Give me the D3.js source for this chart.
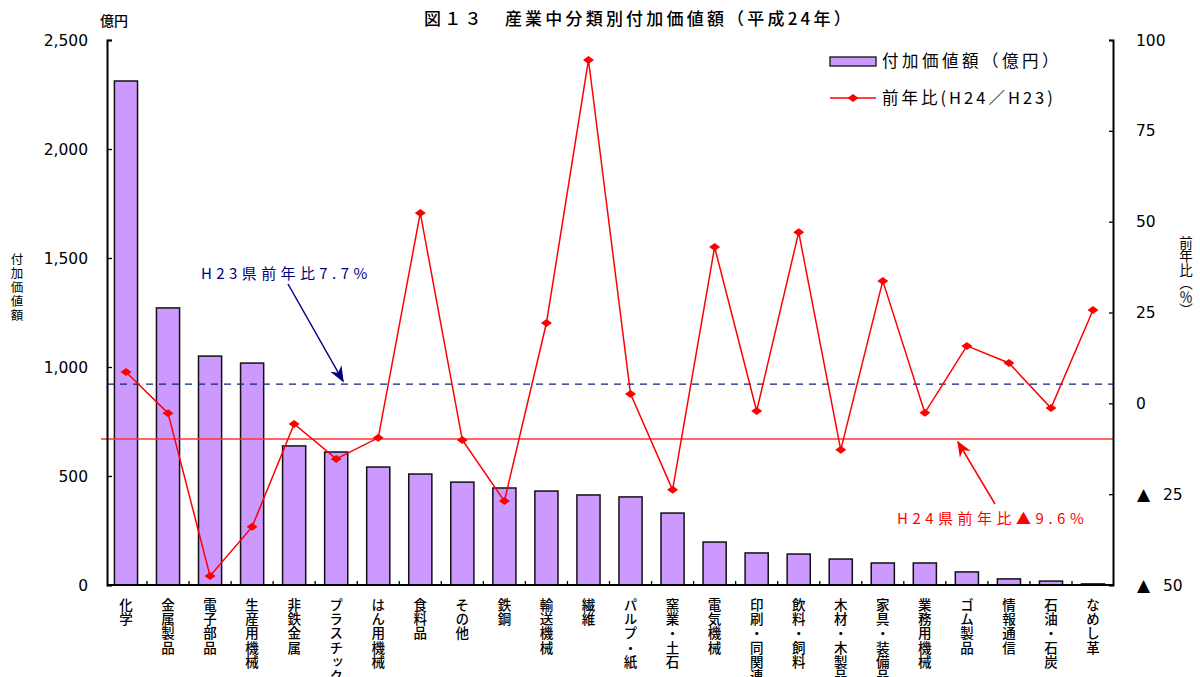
<!DOCTYPE html>
<html>
<head>
<meta charset="utf-8">
<script src="https://cdn.jsdelivr.net/npm/d3@7"></script>
<style>
  body { margin: 0; background: #fff; }
  text { font-family: "Noto Sans CJK JP", "Noto Sans", sans-serif; }
  .num { font-family: "DejaVu Sans", sans-serif; }
</style>
</head>
<body>
<svg width="1200" height="677"></svg>
<script>
// 産業中分類別付加価値額（平成24年）
const categories = [
  "化学", "金属製品", "電子部品", "生産用機械", "非鉄金属", "プラスチック",
  "はん用機械", "食料品", "その他", "鉄鋼", "輸送機械", "繊維",
  "パルプ・紙", "窯業・土石", "電気機械", "印刷・同関連", "飲料・飼料",
  "木材・木製品", "家具・装備品", "業務用機械", "ゴム製品", "情報通信",
  "石油・石炭", "なめし革"
];
// 付加価値額（億円）
const valueAdded = [
  2312, 1271, 1050, 1018, 638, 610, 541, 509, 472, 445, 431, 413,
  404, 330, 197, 147, 142, 119, 101, 101, 60, 28, 18, 5
];
// 前年比（%）
const yoy = [
  8.6, -2.7, -47.5, -34.0, -5.7, -15.3, -9.5, 52.4, -10.1, -26.9, 22.1, 94.5,
  2.6, -23.8, 43.0, -2.1, 47.1, -12.8, 33.7, -2.6, 15.8, 11.1, -1.3, 25.7
];
const leftTicks = [0, 500, 1000, 1500, 2000, 2500];
const rightTicks = [100, 75, 50, 25, 0, -25, -50];
// 県平均の前年比（線の位置）
const refH23 = 5.3, refH24 = -9.8;

const svg = d3.select("svg");
const plotL = 107, plotR = 1113, plotT = 40, plotB = 585;

const x = d3.scaleBand().domain(categories).range([plotL - 1, plotR])
  .paddingInner(0.45).paddingOuter(0.2);
const yL = d3.scaleLinear().domain([0, 2500]).range([plotB, plotT]);
const yR = d3.scaleLinear().domain([-50, 100]).range([plotB, plotT]);
const cx = (c) => x(c) + x.bandwidth() / 2;

//title
svg.append("text")
  .text("図１３　産業中分類別付加価値額（平成24年）")
  .attr("x", 639).attr("y", 25)
  .attr("text-anchor", "middle")
  .attr("font-size", 17).attr("font-weight", 500)
  .attr("letter-spacing", 3.2);

//bars
svg.append("g").selectAll("rect")
  .data(valueAdded)
  .join("rect")
  .attr("x", (d, i) => x(categories[i]))
  .attr("y", (d) => yL(d))
  .attr("width", x.bandwidth())
  .attr("height", (d) => plotB - yL(d))
  .attr("fill", "#cc99ff")
  .attr("stroke", "#111")
  .attr("stroke-width", 1.5);

//reference lines
svg.append("line")
  .attr("x1", plotL).attr("x2", plotR)
  .attr("y1", yR(refH23)).attr("y2", yR(refH23))
  .attr("stroke", "#0d1f80").attr("stroke-width", 1.3)
  .attr("stroke-dasharray", "7,6");
svg.append("line")
  .attr("x1", plotL - 6).attr("x2", plotR)
  .attr("y1", yR(refH24)).attr("y2", yR(refH24))
  .attr("stroke", "#ff3333").attr("stroke-width", 1.5);

//line series
const line = d3.line()
  .x((d, i) => cx(categories[i]))
  .y((d) => yR(d));
svg.append("path")
  .datum(yoy)
  .attr("d", line)
  .attr("fill", "none")
  .attr("stroke", "#ff0000")
  .attr("stroke-width", 1.5);
const diamond = "M0,-4L5.5,0L0,4L-5.5,0Z";
svg.append("g").selectAll("path")
  .data(yoy)
  .join("path")
  .attr("d", diamond)
  .attr("transform", (d, i) => `translate(${cx(categories[i])},${yR(d)})`)
  .attr("fill", "#ff0000");

//axes
const axisL = svg.append("g").attr("transform", `translate(${plotL},0)`)
  .call(d3.axisRight(yL).tickValues(leftTicks).tickSize(5).tickFormat(""));
const axisR = svg.append("g").attr("transform", `translate(${plotR},0)`)
  .call(d3.axisLeft(yR).tickValues(rightTicks).tickSize(4).tickFormat(""));
[axisL, axisR].forEach((a) => {
  a.select(".domain").attr("stroke", "#000").attr("stroke-width", 2);
  a.selectAll(".tick line").attr("stroke", "#000").attr("stroke-width", 1.3);
});
const axisB = svg.append("g").attr("transform", `translate(0,${plotB})`);
axisB.append("line").attr("x1", plotL).attr("x2", plotR)
  .attr("stroke", "#000").attr("stroke-width", 2);
axisB.selectAll("line.sep")
  .data(categories.slice(1))
  .join("line")
  .attr("class", "sep")
  .attr("x1", (d) => x(d) - x.step() * x.paddingInner() / 2)
  .attr("x2", (d) => x(d) - x.step() * x.paddingInner() / 2)
  .attr("y1", 0).attr("y2", -4)
  .attr("stroke", "#000").attr("stroke-width", 1.3);

//left tick labels
svg.append("g").selectAll("text")
  .data(leftTicks)
  .join("text")
  .attr("class", "num")
  .text((d) => d3.format(",")(d))
  .attr("x", 88).attr("y", (d) => yL(d) + 5.5)
  .attr("text-anchor", "end")
  .attr("font-size", 15.5);
//right tick labels (▲ = minus)
const rLab = svg.append("g").selectAll("text")
  .data(rightTicks)
  .join("text")
  .attr("class", "num")
  .attr("x", 1136).attr("y", (d) => yR(d) + 5.5)
  .attr("font-size", 15.5);
rLab.filter((d) => d < 0).append("tspan")
  .text("▲").attr("font-size", 17).attr("x", 1137);
rLab.append("tspan")
  .text((d) => Math.abs(d))
  .attr("x", (d) => (d < 0 ? 1163 : 1136));

//axis titles
svg.append("text").text("億円")
  .attr("x", 100).attr("y", 26).attr("font-size", 14).attr("font-weight", 500);
svg.append("text").text("付加価値額")
  .attr("x", 17).attr("y", 253)
  .attr("writing-mode", "vertical-rl")
  .attr("letter-spacing", 1.5)
  .attr("font-size", 12.5);
svg.append("text").text("前年比（％）")
  .attr("x", 1186).attr("y", 236)
  .attr("writing-mode", "vertical-rl")
  .attr("font-size", 13.5);

//category labels (vertical)
svg.append("g").selectAll("text")
  .data(categories)
  .join("text")
  .text((d) => d)
  .attr("x", (d) => cx(d))
  .attr("y", 598)
  .attr("writing-mode", "vertical-rl")
  .attr("letter-spacing", 0.8)
  .attr("font-size", 13.5)
  .attr("font-weight", 500);

//legend
svg.append("rect")
  .attr("x", 830).attr("y", 57).attr("width", 46).attr("height", 9)
  .attr("fill", "#cc99ff").attr("stroke", "#111").attr("stroke-width", 1.3);
svg.append("text").text("付加価値額（億円）")
  .attr("x", 882).attr("y", 67).attr("font-size", 16.5).attr("letter-spacing", 3.5);
svg.append("line")
  .attr("x1", 830).attr("x2", 876).attr("y1", 98).attr("y2", 98)
  .attr("stroke", "#ff0000").attr("stroke-width", 1.5);
svg.append("path").attr("d", diamond)
  .attr("transform", "translate(853,98)").attr("fill", "#ff0000");
svg.append("text").text("前年比(H24／H23)")
  .attr("x", 882).attr("y", 104).attr("font-size", 16.5).attr("letter-spacing", 3);

//annotations
const defs = svg.append("defs");
[["arrowBlue", "#000080"], ["arrowRed", "#ff0000"]].forEach(([id, col]) => {
  defs.append("marker")
    .attr("id", id).attr("viewBox", "0 0 10 10")
    .attr("refX", 9).attr("refY", 5)
    .attr("markerWidth", 16).attr("markerHeight", 16)
    .attr("markerUnits", "userSpaceOnUse")
    .attr("orient", "auto")
    .append("path").attr("d", "M0,1L10,5L0,9L3,5Z").attr("fill", col);
});
svg.append("text").text("H23県前年比7.7%")
  .attr("x", 201).attr("y", 279)
  .attr("fill", "#000080").attr("font-size", 15).attr("letter-spacing", 4.4);
svg.append("line")
  .attr("x1", 288).attr("y1", 284).attr("x2", 343).attr("y2", 381)
  .attr("stroke", "#000080").attr("stroke-width", 1.5)
  .attr("marker-end", "url(#arrowBlue)");
svg.append("text").text("H24県前年比▲9.6%")
  .attr("x", 897).attr("y", 524)
  .attr("fill", "#ff0000").attr("font-size", 15).attr("letter-spacing", 4.5);
svg.append("line")
  .attr("x1", 995).attr("y1", 504).attr("x2", 958).attr("y2", 442)
  .attr("stroke", "#ff0000").attr("stroke-width", 1.5)
  .attr("marker-end", "url(#arrowRed)");
</script>
</body>
</html>
